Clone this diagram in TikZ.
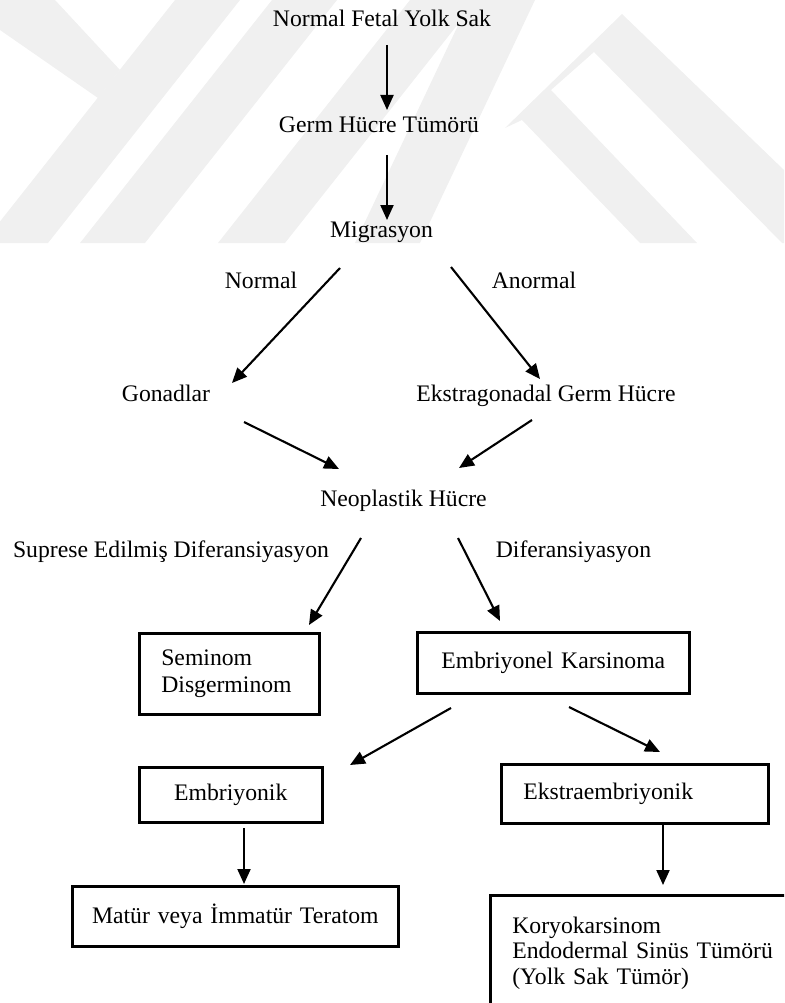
\documentclass[tikz,border=0pt]{standalone}
\usepackage{fontspec}
\setmainfont{Liberation Serif}
\usetikzlibrary{arrows.meta}
\begin{document}
\begin{tikzpicture}[x=1pt,y=-1pt,
  lbl/.style={inner sep=0pt, font=\fontsize{23.7}{27}\selectfont},
  box/.style={draw, line width=2.6pt, font=\fontsize{23.7}{27}\selectfont, inner ysep=0pt, inner xsep=22pt, anchor=north west},
  arr/.style={line width=2.1pt, -{Triangle[length=15pt,width=13pt]}},
  wm/.style={fill=black!6, draw=none}]
\useasboundingbox (0,0) rectangle (784,1003);
\clip (0,0) rectangle (784,1003);
% watermark
\begin{scope}
\clip (0,0) rectangle (784,243);
\fill[wm] (0,0) -- (55,0) -- (120,70) -- (98,98) -- (0,30) -- cycle;
\fill[wm] (-17,243) -- (48,243) -- (240,0) -- (175,0) -- cycle;
\fill[wm] (80,243) -- (145,243) -- (337,0) -- (272,0) -- cycle;
\fill[wm] (218,243) -- (285,243) -- (477,0) -- (410,0) -- cycle;
\fill[wm] (355,243) -- (420,243) -- (535,0) -- (470,0) -- cycle;
\fill[wm] (505,128) -- (622,14) -- (784,170) -- (784,243) -- (782,243) -- (594,52) -- (551,90) -- (697,243) -- (640,243) -- (522,120) -- cycle;
\end{scope}
% text nodes
\node[lbl, anchor=base] (nfys) at (382,26.7) {Normal Fetal Yolk Sak};
\node[lbl, anchor=base] (ght) at (379,133) {Germ Hücre Tümörü};
\node[lbl, anchor=base] (mig) at (381.5,237) {Migrasyon};
\node[lbl, anchor=base] (lnorm) at (261,288) {Normal};
\node[lbl, anchor=base] (lanorm) at (534,288) {Anormal};
\node[lbl, anchor=base] (gon) at (166,401.7) {Gonadlar};
\node[lbl, anchor=base] (egh) at (546,401.7) {Ekstragonadal Germ Hücre};
\node[lbl, anchor=base] (neo) at (403.5,506.7) {Neoplastik Hücre};
\node[lbl, anchor=base] (lsup) at (171,557.7) {Suprese Edilmiş Diferansiyasyon};
\node[lbl, anchor=base] (ldif) at (573.5,557.7) {Diferansiyasyon};
% boxes
\node[box, minimum height=81pt, text width=136pt, align=left] (sem) at (138,632) {Seminom\\Disgerminom};
\node[box, minimum height=61pt, text width=228pt, align=center] (emk) at (416,631) {Embriyonel Karsinoma};
\node[box, minimum height=55pt, text width=139pt, align=center] (emb) at (138,766) {Embriyonik};
\node[box, minimum height=59pt, text width=223pt, align=left] (ekem) at (500,763) {Ekstraembriyonik};
\node[box, minimum height=60pt, text width=292pt, inner xsep=17pt, align=center] (mat) at (71,885) {Matür veya İmmatür Teratom};
\node[box, minimum height=115pt, text width=309pt, align=left, font=\fontsize{23.7}{25.5}\selectfont] (kor) at (489,894) {Koryokarsinom\\Endodermal Sinüs Tümörü\\(Yolk Sak Tümör)};
% arrow end points
\coordinate (a1s) at (387,45);   \coordinate (a1e) at (387,110);
\coordinate (a2s) at (387,155);  \coordinate (a2e) at (387,220);
\coordinate (a3s) at (340,268);  \coordinate (a3e) at (232,383);
\coordinate (a4s) at (451,267);  \coordinate (a4e) at (540,379);
\coordinate (a5s) at (244,422);  \coordinate (a5e) at (339,469);
\coordinate (a6s) at (532,420);  \coordinate (a6e) at (459,468);
\coordinate (a7s) at (361,538);  \coordinate (a7e) at (309,625);
\coordinate (a8s) at (458,538);  \coordinate (a8e) at (500,621);
\coordinate (a9s) at (451,708);  \coordinate (a9e) at (350,765);
\coordinate (a10s) at (569,707); \coordinate (a10e) at (660,752);
\coordinate (a11s) at (244,828); \coordinate (a11e) at (244,884);
\coordinate (a12s) at (663,823); \coordinate (a12e) at (663,885);
\draw[arr] (a1s) -- (a1e);
\draw[arr] (a2s) -- (a2e);
\draw[arr] (a3s) -- (a3e);
\draw[arr] (a4s) -- (a4e);
\draw[arr] (a5s) -- (a5e);
\draw[arr] (a6s) -- (a6e);
\draw[arr] (a7s) -- (a7e);
\draw[arr] (a8s) -- (a8e);
\draw[arr] (a9s) -- (a9e);
\draw[arr] (a10s) -- (a10e);
\draw[arr] (a11s) -- (a11e);
\draw[arr] (a12s) -- (a12e);
\end{tikzpicture}
\end{document}
